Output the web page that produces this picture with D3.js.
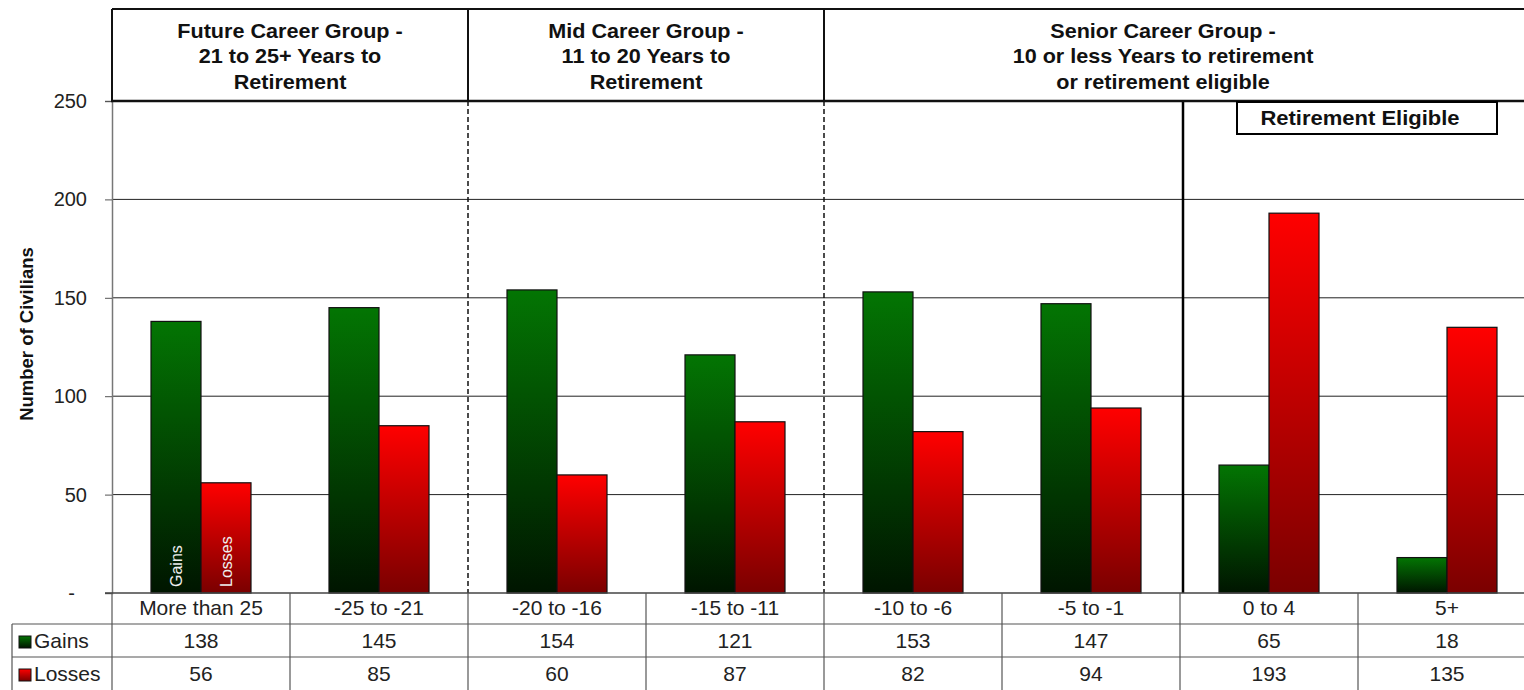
<!DOCTYPE html>
<html>
<head>
<meta charset="utf-8">
<script src="https://cdn.jsdelivr.net/npm/d3@7"></script>
<style>
  html, body { margin: 0; padding: 0; background: #fff; }
  svg { display: block; font-family: "Liberation Sans", Arial, sans-serif; }
</style>
</head>
<body>
<svg id="chart" width="1524" height="690"></svg>
<script>
// Years-to-retirement bands and the civilian gains / losses in each
const categories = ["More than 25", "-25 to -21", "-20 to -16", "-15 to -11", "-10 to -6", "-5 to -1", "0 to 4", "5+"];
const gains  = [138, 145, 154, 121, 153, 147, 65, 18];
const losses = [56, 85, 60, 87, 82, 94, 193, 135];
const seriesNames = ["Gains", "Losses"];
const yTicks = [0, 50, 100, 150, 200, 250];

// Career groups spanning the category bands
const groups = [
  { first: 0, last: 1, lines: ["Future Career Group -", "21 to 25+ Years to", "Retirement"] },
  { first: 2, last: 3, lines: ["Mid Career Group -", "11 to 20 Years to", "Retirement"] },
  { first: 4, last: 7, lines: ["Senior Career Group -", "10 or less Years to retirement", "or retirement eligible"] }
];
const eligibleLabel = "Retirement Eligible";
const eligibleFrom = 6; // first category that is retirement eligible

const svg = d3.select("#chart");
const plotLeft = 112, plotRight = 1536, plotTop = 101, plotBottom = 593, headerTop = 9;

const x0 = d3.scaleBand().domain(categories).range([plotLeft, plotRight]).paddingInner(0).paddingOuter(0);
const x1 = d3.scaleBand().domain(seriesNames).range([0, x0.bandwidth()]).paddingInner(0).paddingOuter(0.78);
const y = d3.scaleLinear().domain([0, 250]).range([plotBottom, plotTop]);

// Gradients
const defs = svg.append("defs");
function grad(id, c1, c2) {
  const g = defs.append("linearGradient").attr("id", id)
    .attr("x1", 0).attr("y1", 0).attr("x2", 0).attr("y2", 1);
  g.append("stop").attr("offset", "0%").attr("stop-color", c1);
  g.append("stop").attr("offset", "100%").attr("stop-color", c2);
}
grad("gGains", "#037503", "#001500");
grad("gLosses", "#ff0000", "#7a0000");
const fills = { Gains: "url(#gGains)", Losses: "url(#gLosses)" };

// Gridlines
svg.append("g").selectAll("line").data(yTicks.filter(t => t > 0 && t < 250)).join("line")
  .attr("x1", plotLeft).attr("x2", plotRight)
  .attr("y1", d => y(d)).attr("y2", d => y(d))
  .attr("stroke", "#222").attr("stroke-width", 1);

// Y axis
const yAxis = d3.axisLeft(y).tickValues(yTicks).tickSize(7).tickPadding(18)
  .tickFormat(d => d === 0 ? "-" : d);
const ya = svg.append("g").attr("transform", `translate(${plotLeft},0)`).call(yAxis);
ya.select(".domain").attr("stroke", "#777").attr("stroke-width", 1.5);
ya.selectAll(".tick line").attr("stroke", "#555");
ya.selectAll(".tick text").attr("font-size", 20).attr("fill", "#222")
  .attr("font-family", "'Liberation Sans', Arial, sans-serif")
  .attr("dx", d => d === 0 ? -12 : 0);

svg.append("text")
  .attr("transform", `translate(33,334) rotate(-90)`)
  .attr("text-anchor", "middle").attr("font-size", 18.5).attr("font-weight", "bold").attr("fill", "#111")
  .text("Number of Civilians");

// Bars
const rows = categories.map((c, i) => ({ cat: c, vals: [{ s: "Gains", v: gains[i] }, { s: "Losses", v: losses[i] }] }));
const cg = svg.append("g").selectAll("g").data(rows).join("g")
  .attr("transform", d => `translate(${x0(d.cat)},0)`);
cg.selectAll("rect").data(d => d.vals).join("rect")
  .attr("x", d => x1(d.s)).attr("width", x1.bandwidth())
  .attr("y", d => y(d.v)).attr("height", d => y(0) - y(d.v))
  .attr("fill", d => fills[d.s]).attr("stroke", "#111").attr("stroke-width", 1.2);

// Series names written inside the first pair of bars
seriesNames.forEach(s => {
  const cx = x0(categories[0]) + x1(s) + x1.bandwidth() / 2;
  svg.append("text")
    .attr("transform", `translate(${cx + 6},${plotBottom - 6}) rotate(-90)`)
    .attr("font-size", 16).attr("fill", "#eeeeee").text(s);
});

// Group separators
groups.slice(1).forEach(g => {
  const gx = x0(categories[g.first]);
  svg.append("line").attr("x1", gx).attr("x2", gx).attr("y1", plotTop).attr("y2", plotBottom)
    .attr("stroke", "#111").attr("stroke-width", 1.5).attr("stroke-dasharray", "5,3");
  svg.append("line").attr("x1", gx).attr("x2", gx).attr("y1", headerTop).attr("y2", plotTop)
    .attr("stroke", "#111").attr("stroke-width", 2);
});
const ex = x0(categories[eligibleFrom]) + 3;
svg.append("line").attr("x1", ex).attr("x2", ex).attr("y1", plotTop).attr("y2", plotBottom)
  .attr("stroke", "#000").attr("stroke-width", 2.5);

// Header band
svg.append("line").attr("x1", plotLeft).attr("x2", plotRight).attr("y1", headerTop).attr("y2", headerTop)
  .attr("stroke", "#111").attr("stroke-width", 2.2);
svg.append("line").attr("x1", plotLeft - 1).attr("x2", plotRight).attr("y1", plotTop).attr("y2", plotTop)
  .attr("stroke", "#111").attr("stroke-width", 2.5);
svg.append("line").attr("x1", plotLeft).attr("x2", plotLeft).attr("y1", headerTop).attr("y2", plotTop)
  .attr("stroke", "#111").attr("stroke-width", 2);
const groupCenters = [null, null, 1163];
groups.forEach((g, gi) => {
  const cx = groupCenters[gi] !== null ? groupCenters[gi]
    : (x0(categories[g.first]) + x0(categories[g.last]) + x0.bandwidth()) / 2;
  g.lines.forEach((ln, li) => {
    svg.append("text")
      .attr("transform", `translate(${cx},${37.5 + li * 25.5}) scale(1.08,1)`)
      .attr("text-anchor", "middle").attr("font-size", 20)
      .attr("font-weight", "bold").attr("fill", "#111").text(ln);
  });
});

// Retirement eligible box
svg.append("rect").attr("x", 1237).attr("y", 102).attr("width", 260).attr("height", 32)
  .attr("fill", "#fff").attr("stroke", "#000").attr("stroke-width", 2);
svg.append("text").attr("transform", "translate(1360,125) scale(1.1,1)").attr("text-anchor", "middle")
  .attr("font-size", 20).attr("font-weight", "bold").attr("fill", "#111").text(eligibleLabel);

// Data table below the axis
const rowY = [593, 624, 657, 690];
const tableStroke = "#555";
const tg = svg.append("g");
// horizontal rules
tg.append("line").attr("x1", plotLeft - 7).attr("x2", plotRight).attr("y1", plotBottom).attr("y2", plotBottom)
  .attr("stroke", "#444").attr("stroke-width", 1.5);
[rowY[1], rowY[2]].forEach(ry => {
  tg.append("line").attr("x1", 12).attr("x2", plotRight).attr("y1", ry).attr("y2", ry)
    .attr("stroke", tableStroke).attr("stroke-width", 1.2);
});
// vertical rules
categories.forEach(c => {
  const vx = x0(c);
  tg.append("line").attr("x1", vx).attr("x2", vx).attr("y1", plotBottom).attr("y2", 690)
    .attr("stroke", tableStroke).attr("stroke-width", 1.2);
});
tg.append("line").attr("x1", 12).attr("x2", 12).attr("y1", rowY[1]).attr("y2", 690)
  .attr("stroke", tableStroke).attr("stroke-width", 1.2);

// category labels
tg.selectAll("text.cat").data(categories).join("text").attr("class", "cat")
  .attr("x", d => x0(d) + x0.bandwidth() / 2).attr("y", 615)
  .attr("text-anchor", "middle").attr("font-size", 21).attr("fill", "#222").text(d => d);
// values
[gains, losses].forEach((arr, ri) => {
  tg.selectAll(null).data(arr).join("text")
    .attr("x", (d, i) => x0(categories[i]) + x0.bandwidth() / 2)
    .attr("y", ri === 0 ? 648 : 681)
    .attr("text-anchor", "middle").attr("font-size", 21).attr("fill", "#222").text(d => d);
});
// legend keys
seriesNames.forEach((s, i) => {
  const by = i === 0 ? 648 : 681;
  tg.append("rect").attr("x", 19).attr("y", by - 12).attr("width", 12).attr("height", 12)
    .attr("fill", fills[s]).attr("stroke", "#111").attr("stroke-width", 1);
  tg.append("text").attr("x", 34).attr("y", by).attr("font-size", 21).attr("fill", "#222").text(s);
});
</script>
</body>
</html>
